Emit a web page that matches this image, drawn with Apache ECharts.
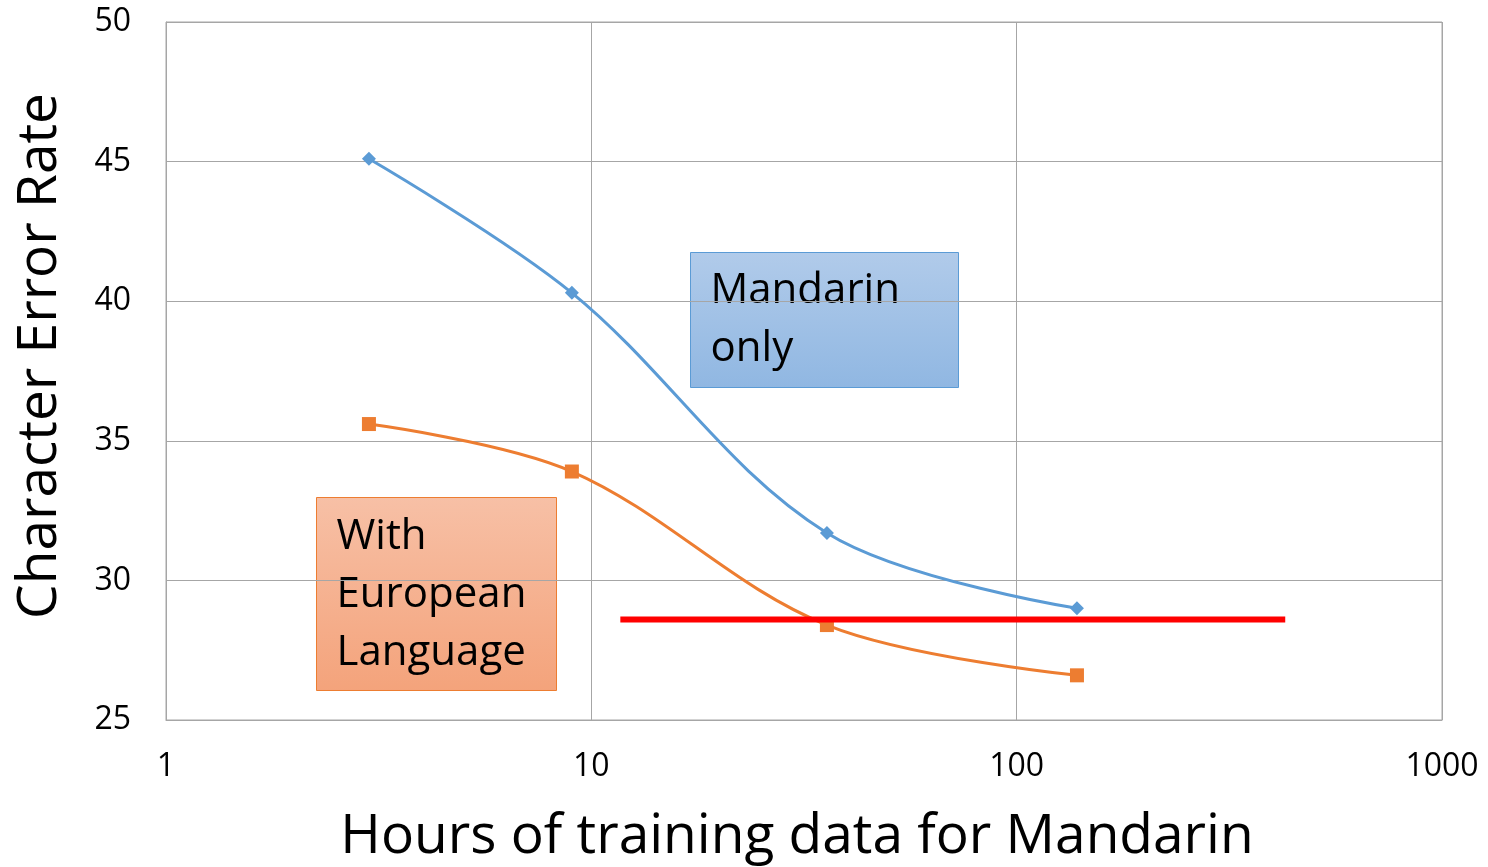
<!DOCTYPE html>
<html>
<head>
<meta charset="utf-8">
<script src="https://cdn.jsdelivr.net/npm/echarts@6/dist/echarts.min.js"></script>
<style>
  html, body { margin: 0; padding: 0; background: #fff; }
  #chart { width: 1488px; height: 867px; }
</style>
</head>
<body>
<div id="chart"></div>
<script>
// hours of Mandarin training data (x, log scale)
const hours = [3.0, 9.0, 35.8, 138.6];
// character error rate
const mandarinOnly = [45.1, 40.3, 31.7, 29.0];
const withEuropean = [35.6, 33.9, 28.4, 26.6];
// red reference line
const refLineX = [11.7, 428];
const refLineY = [28.6, 28.6];
const yTicks = [25, 30, 35, 40, 45, 50];

const font = 'Open Sans';
const gridColor = '#a6a6a6';

const chart = echarts.init(document.getElementById('chart'));
chart.setOption({
  animation: false,
  grid: {
    left: 166, right: 46, top: 22, bottom: 147,
    outerBoundsMode: 'none', containLabel: false,
    show: true, borderColor: gridColor, borderWidth: 1
  },
  xAxis: {
    type: 'log',
    logBase: 10,
    min: 1,
    max: 1000,
    name: 'Hours of training data for Mandarin',
    nameLocation: 'middle',
    nameGap: 90,
    nameTextStyle: { fontFamily: font, fontSize: 55, color: '#000', padding: [0, 14, 0, 0] },
    axisLine: { show: true, lineStyle: { color: gridColor, width: 1 } },
    axisTick: { show: false },
    axisLabel: { fontFamily: font, fontSize: 32, color: '#000', margin: 31, formatter: v => String(v) },
    splitLine: { show: true, lineStyle: { color: gridColor, width: 1 } },
    minorTick: { show: false }
  },
  yAxis: {
    type: 'value',
    min: yTicks[0],
    max: yTicks[yTicks.length - 1],
    interval: 5,
    name: 'Character Error Rate',
    nameLocation: 'middle',
    nameGap: 98,
    nameTextStyle: { fontFamily: font, fontSize: 55, color: '#000', padding: [0, 0, 0, 30] },
    axisLine: { show: true, lineStyle: { color: gridColor, width: 1 } },
    axisTick: { show: false },
    axisLabel: { fontFamily: font, fontSize: 32, color: '#000', margin: 35 },
    splitLine: { show: true, lineStyle: { color: gridColor, width: 1 } }
  },
  series: [
    {
      name: 'Mandarin only',
      type: 'line',
      smooth: 0.35,
      symbol: 'diamond',
      symbolSize: 14,
      lineStyle: { color: '#5b9bd5', width: 3 },
      itemStyle: { color: '#5b9bd5' },
      data: hours.map((h, i) => [h, mandarinOnly[i]]),
      z: 3
    },
    {
      name: 'With European Language',
      type: 'line',
      smooth: 0.35,
      symbol: 'rect',
      symbolSize: 14,
      lineStyle: { color: '#ed7d31', width: 3 },
      itemStyle: { color: '#ed7d31' },
      data: hours.map((h, i) => [h, withEuropean[i]]),
      z: 3
    },
    {
      name: 'reference',
      type: 'line',
      symbol: 'none',
      lineStyle: { color: '#ff0000', width: 6 },
      data: refLineX.map((x, i) => [x, refLineY[i]]),
      z: 4
    }
  ],
  graphic: [
    {
      type: 'group',
      left: 690,
      top: 252,
      z: 10,
      children: [
        {
          type: 'rect',
          shape: { x: 0, y: 0, width: 268, height: 135 },
          style: {
            fill: new echarts.graphic.LinearGradient(0, 0, 0, 1, [
              { offset: 0, color: '#b1cbea' },
              { offset: 1, color: '#90b7e2' }
            ]),
            stroke: '#5b9bd5',
            lineWidth: 1
          }
        },
        {
          type: 'text',
          x: 20,
          y: 10,
          style: { text: 'Mandarin\nonly', fontFamily: font, fontSize: 42, lineHeight: 58, fill: '#000' }
        }
      ]
    },
    {
      type: 'group',
      left: 316,
      top: 497,
      z: 10,
      children: [
        {
          type: 'rect',
          shape: { x: 0, y: 0, width: 240, height: 193 },
          style: {
            fill: new echarts.graphic.LinearGradient(0, 0, 0, 1, [
              { offset: 0, color: '#f7c0a6' },
              { offset: 1, color: '#f4a37b' }
            ]),
            stroke: '#ed7d31',
            lineWidth: 1
          }
        },
        {
          type: 'text',
          x: 20,
          y: 11,
          style: { text: 'With\nEuropean\nLanguage', fontFamily: font, fontSize: 42, lineHeight: 58, fill: '#000' }
        }
      ]
    }
  ]
});
</script>
</body>
</html>
